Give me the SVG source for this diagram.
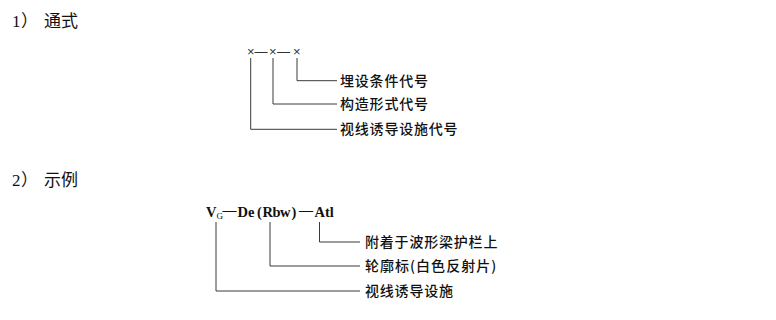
<svg xmlns="http://www.w3.org/2000/svg" width="776" height="320" viewBox="0 0 776 320">
<style>
.bg{fill:#ffffff}
.h{font-family:"Liberation Serif","Noto Sans CJK SC",serif;font-size:17px;fill:#111}
.hc{font-family:"Noto Sans CJK SC",sans-serif;font-size:17px;fill:#111;font-weight:400}
.lbl{font-family:"Noto Sans CJK SC",sans-serif;font-size:14px;fill:#111;font-weight:500;letter-spacing:0.8px}
.code{font-family:"Liberation Sans",sans-serif;font-size:13px;fill:#333}
.f{font-family:"Liberation Serif",serif;font-weight:bold;font-size:14.5px;fill:#111}
.conn path{fill:none;stroke:#3a3a3a;stroke-width:1}
</style>
<rect class="bg" x="0" y="0" width="776" height="320"/>
<g id="heading1">
<text class="h" x="12" y="26.5">1<tspan class="hc" x="21">）</tspan><tspan class="hc" x="44">通式</tspan></text>
</g>
<g id="heading2">
<text class="h" x="12" y="186">2<tspan class="hc" x="21">）</tspan><tspan class="hc" x="44">示例</tspan></text>
</g>
<g id="formula1">
<text class="code" y="56"><tspan x="247">×</tspan><tspan x="254.5" y="55.5">—</tspan><tspan x="269" y="56">×</tspan><tspan x="277" y="55.5">—</tspan><tspan x="293" y="56">×</tspan></text>
</g>
<g id="label1-1"><text class="lbl" x="340" y="86">埋设条件代号</text></g>
<g id="label1-2"><text class="lbl" x="340" y="109">构造形式代号</text></g>
<g id="label1-3"><text class="lbl" x="340" y="134">视线诱导设施代号</text></g>
<g id="formula2">
<text class="f" y="216.5"><tspan x="206" textLength="10">V</tspan><tspan x="216.5" y="219" style="font-size:9px;font-weight:normal">G</tspan><tspan x="222.5" y="215" style="font-size:14px">—</tspan><tspan x="237.5" y="216.5">De</tspan><tspan x="257">(</tspan><tspan x="262.5" textLength="28">Rbw</tspan><tspan x="291.5">)</tspan><tspan x="299" y="215" style="font-size:14px">—</tspan><tspan x="314.5" y="216.5">Atl</tspan></text>
</g>
<g id="label2-1"><text class="lbl" x="365" y="247">附着于波形梁护栏上</text></g>
<g id="label2-2"><text class="lbl" x="365" y="271" textLength="132">轮廓标(白色反射片)</text></g>
<g id="label2-3"><text class="lbl" x="365" y="296">视线诱导设施</text></g>
<g id="connectors" class="conn">
<path d="M297 58V80.7H337"/>
<path d="M273 58V104H337"/>
<path d="M250.7 58V129.3H337"/>
<path d="M319.5 222V242H360"/>
<path d="M270 222V266H360"/>
<path d="M216 222V291H360"/>
</g>
</svg>
